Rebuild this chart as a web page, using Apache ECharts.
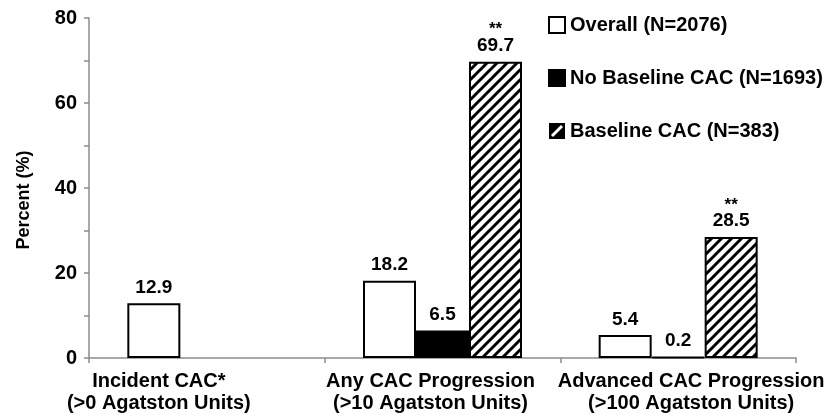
<!DOCTYPE html>
<html>
<head>
<meta charset="utf-8">
<script src="https://cdn.jsdelivr.net/npm/echarts@6/dist/echarts.min.js"></script>
<style>html,body{margin:0;padding:0;background:#fff;}#chart{width:833px;height:415px;}</style>
</head>
<body>
<div id="chart"></div>
<script>
const categories = ['Incident CAC*\n(>0 Agatston Units)', 'Any CAC Progression\n(>10 Agatston Units)', 'Advanced CAC Progression\n(>100 Agatston Units)'];
const overall = [12.9, 18.2, 5.4];
const noBaseline = [null, 6.5, 0.2];
const baseline = [null, 69.7, 28.5];
const baselineStars = ['', '**', '**'];
const seriesNames = ['Overall (N=2076)', 'No Baseline CAC (N=1693)', 'Baseline CAC (N=383)'];
const yTicks = [0, 20, 40, 60, 80];

const FONT = '"Liberation Sans", Arial, sans-serif';

function hatchCanvas() {
  const c = document.createElement('canvas');
  c.width = 10; c.height = 10;
  const g = c.getContext('2d');
  g.fillStyle = '#fff'; g.fillRect(0, 0, 10, 10);
  g.strokeStyle = '#000'; g.lineWidth = 3; g.lineCap = 'square';
  g.beginPath();
  g.moveTo(-5, 5); g.lineTo(5, -5);
  g.moveTo(0, 10); g.lineTo(10, 0);
  g.moveTo(5, 15); g.lineTo(15, 5);
  g.stroke();
  return c;
}
function legendHatchIcon() {
  const c = document.createElement('canvas');
  c.width = 32; c.height = 32;
  const g = c.getContext('2d');
  g.fillStyle = '#000'; g.fillRect(0, 0, 32, 32);
  g.strokeStyle = '#fff'; g.lineWidth = 6;
  g.beginPath(); g.moveTo(6, 26); g.lineTo(26, 6); g.stroke();
  return 'image://' + c.toDataURL();
}

const chart = echarts.init(document.getElementById('chart'), null, {renderer: 'canvas'});
const labelBase = {show: true, position: 'top', distance: 6, color: '#000', fontFamily: FONT, fontWeight: 'bold', fontSize: 19};
const barBase = {type: 'bar', barWidth: 53, barGap: '0%', barCategoryGap: '32%'};

chart.setOption({
  animation: false,
  backgroundColor: '#fff',
  grid: {left: 89, right: 37, top: 18, bottom: 57, containLabel: false},
  legend: {
    orient: 'vertical', left: 543, top: 10, itemWidth: 16, itemHeight: 16, itemGap: 33,
    textStyle: {color: '#000', fontFamily: FONT, fontWeight: 'bold', fontSize: 20},
    data: [
      {name: seriesNames[0], icon: 'rect'},
      {name: seriesNames[1], icon: 'rect'},
      {name: seriesNames[2], icon: legendHatchIcon()}
    ]
  },
  xAxis: {
    type: 'category', data: categories,
    axisLine: {lineStyle: {color: '#8c8c8c', width: 1.5}},
    axisTick: {show: true, length: 5, lineStyle: {color: '#8c8c8c', width: 1.5}},
    axisLabel: {
      margin: 12, interval: 0, color: '#000', fontFamily: FONT, fontWeight: 'bold', fontSize: 20, lineHeight: 22,
      formatter: (v, i) => v.split('\n').map(s => '{c' + i + '|' + s + '}').join('\n'),
      rich: {
        c0: {fontFamily: FONT, fontWeight: 'bold', fontSize: 20, lineHeight: 22, color: '#000', padding: [0, 96, 0, 0]},
        c1: {fontFamily: FONT, fontWeight: 'bold', fontSize: 20, lineHeight: 22, color: '#000', padding: [0, 24, 0, 0]},
        c2: {fontFamily: FONT, fontWeight: 'bold', fontSize: 20, lineHeight: 22, color: '#000', padding: [0, 0, 0, 26]}
      }
    }
  },
  yAxis: {
    type: 'value', min: 0, max: 80, interval: 10,
    name: 'Percent (%)', nameLocation: 'middle', nameGap: 56, nameRotate: 90,
    nameTextStyle: {color: '#000', fontFamily: FONT, fontWeight: 'bold', fontSize: 18, padding: [0, 24, 0, 0]},
    axisLine: {show: true, lineStyle: {color: '#8c8c8c', width: 1.5}},
    axisTick: {show: true, length: 5, lineStyle: {color: '#8c8c8c', width: 1.5}},
    splitLine: {show: false},
    axisLabel: {
      margin: 12, color: '#000', fontFamily: FONT, fontWeight: 'bold', fontSize: 20,
      formatter: v => (yTicks.indexOf(v) >= 0 ? String(v) : '')
    }
  },
  series: [
    Object.assign({}, barBase, {
      name: seriesNames[0], data: overall,
      itemStyle: {color: '#fff', borderColor: '#000', borderWidth: 2},
      label: Object.assign({}, labelBase)
    }),
    Object.assign({}, barBase, {
      name: seriesNames[1], data: noBaseline,
      itemStyle: {color: '#000', borderColor: '#000', borderWidth: 2},
      label: Object.assign({}, labelBase)
    }),
    Object.assign({}, barBase, {
      name: seriesNames[2], data: baseline,
      itemStyle: {color: {image: hatchCanvas(), repeat: 'repeat'}, borderColor: '#000', borderWidth: 2},
      label: Object.assign({}, labelBase, {
        formatter: p => (baselineStars[p.dataIndex] ? '{s|' + baselineStars[p.dataIndex] + '}\n' : '') + '{v|' + p.value + '}',
        rich: {
          s: {fontFamily: FONT, fontWeight: 'bold', fontSize: 17, lineHeight: 12, color: '#000', align: 'center'},
          v: {fontFamily: FONT, fontWeight: 'bold', fontSize: 19, lineHeight: 20, color: '#000', align: 'center'}
        }
      })
    })
  ]
});
</script>
</body>
</html>
